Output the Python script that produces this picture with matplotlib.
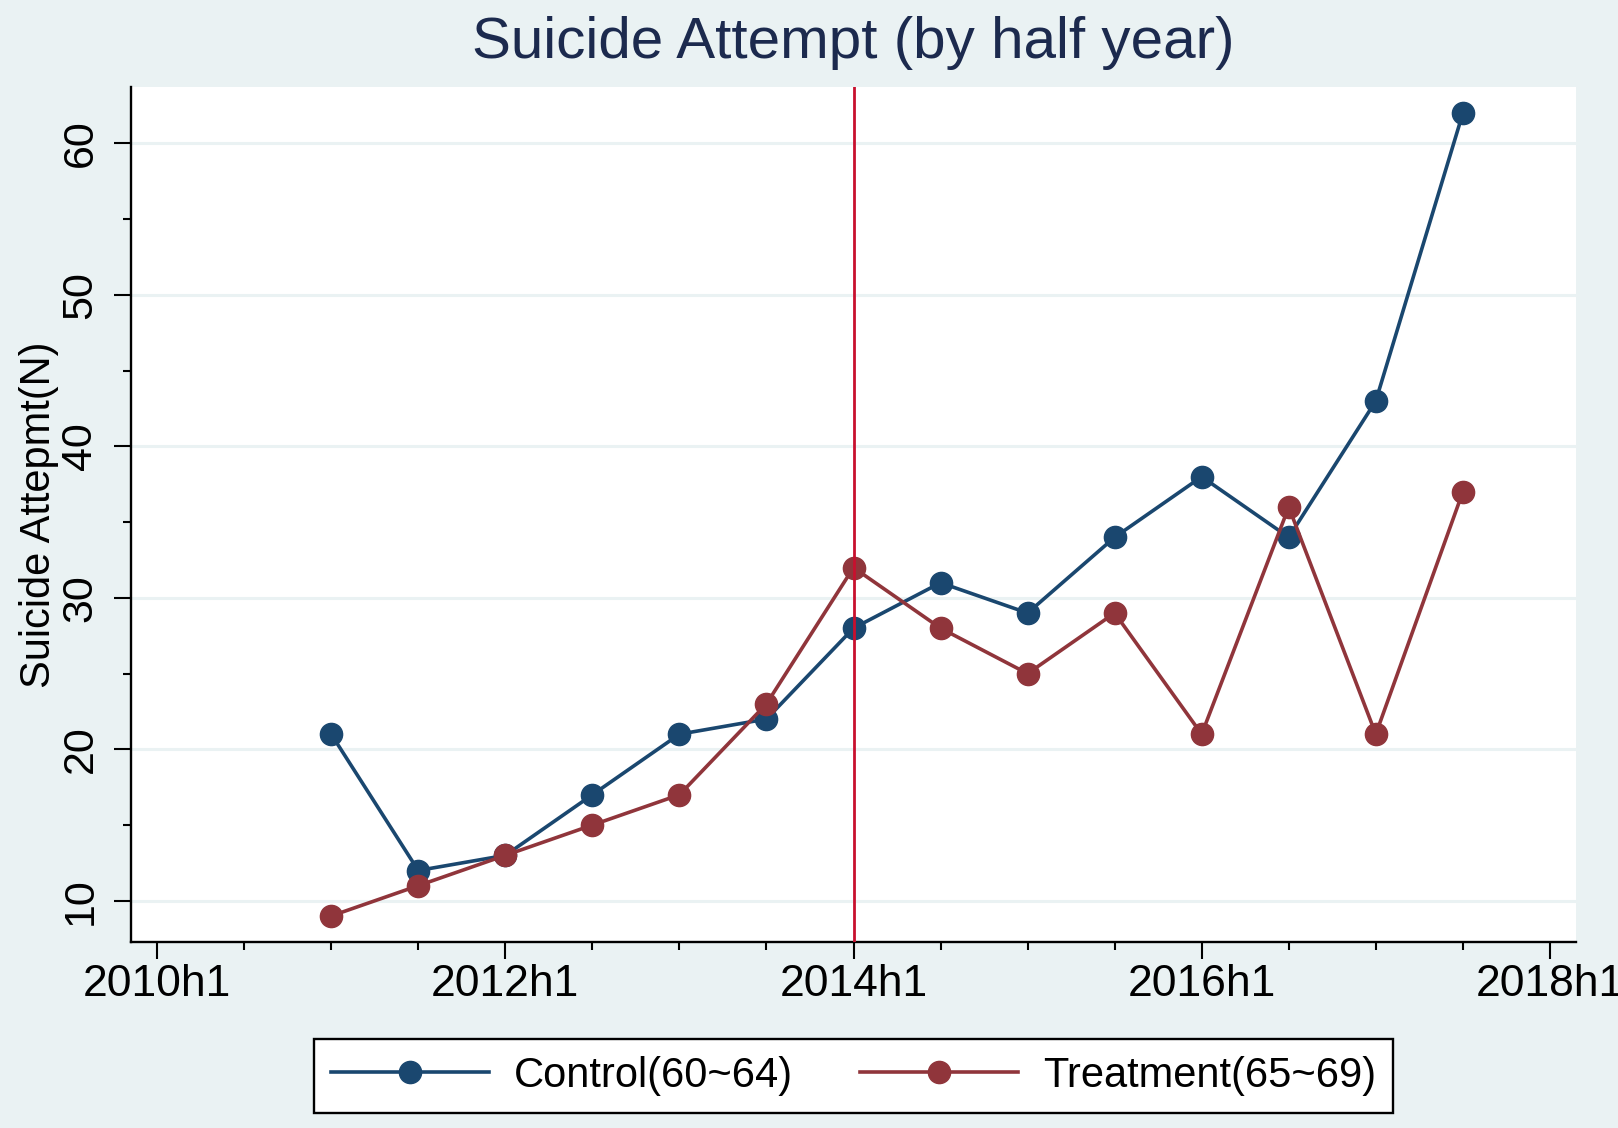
#####################################################################################
# IMPORTS
#####################################################################################

import matplotlib
matplotlib.use('Agg')
import matplotlib.pyplot as plt
from matplotlib.ticker import MultipleLocator

#####################################################################################
# DATA
#####################################################################################

# half years counted from 2010h1 (0 = 2010h1, 1 = 2010h2, ...)
periods = list(range(2, 16))
control = [21, 12, 13, 17, 21, 22, 28, 31, 29, 34, 38, 34, 43, 62]
treatment = [9, 11, 13, 15, 17, 23, 32, 28, 25, 29, 21, 36, 21, 37]

x_ticks = [0, 4, 8, 12, 16]
x_labels = ['2010h1', '2012h1', '2014h1', '2016h1', '2018h1']
y_ticks = [10, 20, 30, 40, 50, 60]
policy_period = 8  # 2014h1

#####################################################################################
# STYLE
#####################################################################################

plt.rcParams['font.family'] = ['Liberation Sans', 'DejaVu Sans']

bg = '#eaf2f3'
navy = '#1a476f'
maroon = '#90353b'
red = '#c8102e'

#####################################################################################
# PLOT
#####################################################################################

fig = plt.figure(figsize=(16.18, 11.28), dpi=100, facecolor=bg)
ax = fig.add_axes([131 / 1618, 1 - 942 / 1128, 1445 / 1618, 855 / 1128])
ax.set_facecolor('white')

for yv in y_ticks:
	ax.axhline(yv, color=bg, linewidth=2.2, zorder=1)

ax.plot(periods, control, color=navy, linewidth=2.6, marker='o', markersize=16,
	markerfacecolor=navy, markeredgecolor=navy, label='Control(60~64)', zorder=3)
ax.plot(periods, treatment, color=maroon, linewidth=2.6, marker='o', markersize=16,
	markerfacecolor=maroon, markeredgecolor=maroon, label='Treatment(65~69)', zorder=3)

ax.axvline(policy_period, color=red, linewidth=2.0, zorder=4)

ax.set_xlim(-0.3, 16.3)
ax.set_ylim(7.28, 63.73)

ax.set_xticks(x_ticks)
ax.set_xticklabels(x_labels)
ax.xaxis.set_minor_locator(MultipleLocator(1))
ax.set_yticks(y_ticks)
ax.yaxis.set_minor_locator(MultipleLocator(5))

ax.tick_params(axis='both', which='major', length=12, width=1.5, labelsize=32, color='black')
ax.tick_params(axis='both', which='minor', length=6, width=1.5, color='black')
ax.tick_params(axis='x', which='major', pad=4)
ax.tick_params(axis='y', which='major', pad=10, labelrotation=90, labelsize=31)
for lab in ax.get_yticklabels():
	lab.set_va('center')

for side in ['top', 'right']:
	ax.spines[side].set_visible(False)
for side in ['left', 'bottom']:
	ax.spines[side].set_linewidth(1.7)
	ax.spines[side].set_color('black')

ax.set_ylabel('Suicide Attepmt(N)', fontsize=30)
ax.yaxis.set_label_coords(-0.05, 0.5)

fig.text(853.5 / 1618, 1 - 43 / 1128, 'Suicide Attempt (by half year)', fontsize=42,
	color='#1c2a4e', ha='center', va='center')

leg = ax.legend(loc='center', bbox_to_anchor=(853.5 / 1618, 1 - 1076 / 1128),
	bbox_transform=fig.transFigure, ncol=2, fontsize=30, frameon=True, fancybox=False,
	edgecolor='black', framealpha=1, handlelength=3.8, handletextpad=0.6,
	columnspacing=1.6, borderpad=0.4)
leg.get_frame().set_linewidth(1.7)

fig.savefig('out.png', dpi=100, facecolor=bg)
